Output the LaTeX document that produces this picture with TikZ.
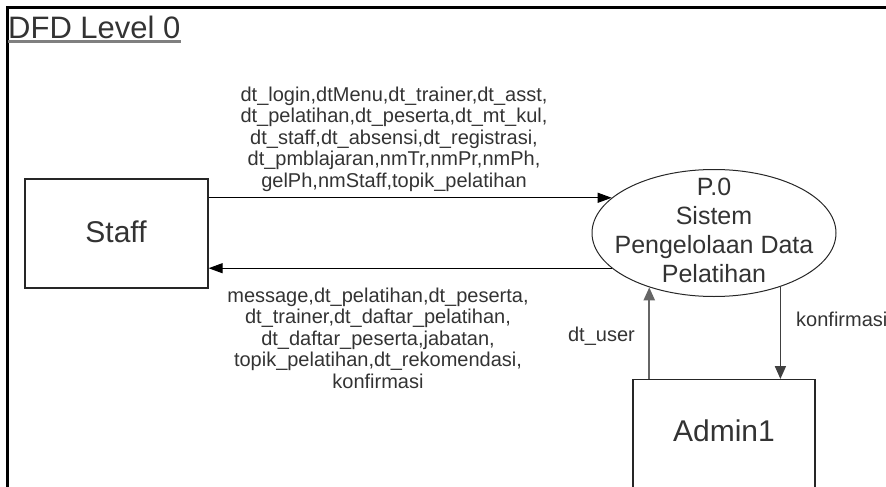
\documentclass[tikz,border=0pt]{standalone}
\usepackage{fontspec}
\setmainfont{Liberation Sans}
\usetikzlibrary{shapes.geometric,arrows.meta}
\definecolor{txt}{HTML}{333333}
\tikzset{
  entity/.style={draw=black!85, line width=1.2pt, inner sep=0pt},
  proc/.style={ellipse, draw=black!85, line width=1pt, inner sep=0pt},
  bigtext/.style={font=\fontsize{30}{34}\selectfont, text=txt, inner sep=0pt},
  proctxt/.style={font=\fontsize{25}{29}\selectfont, text=txt, inner sep=0pt, align=center},
  lbl/.style={font=\fontsize{20}{21.5}\selectfont, text=txt, inner sep=0pt, align=center},
  flow/.style={draw=black, line width=1pt, -{Triangle[length=14pt,width=10pt]}},
  flowgray/.style={draw=black!60, line width=2.2pt, -{Triangle[length=13pt,width=11pt]}},
  flowdark/.style={draw=black!75, line width=1.8pt, -{Triangle[length=13pt,width=11pt]}},
  frame/.style={draw=black, line width=2.8pt},
}
\begin{document}
\begin{tikzpicture}[x=1pt,y=-1pt]
\useasboundingbox (0,0) rectangle (886,487);
\clip (0,0) rectangle (886,487);
% frame
\draw[frame] (886,7.7) -- (7.8,7.7) -- (7.8,487);
% title
\node[font=\fontsize{31}{34}\selectfont, text=black!80, inner sep=0pt, anchor=base west] (title) at (8,39) {DFD Level 0};
\draw[draw=black!50, line width=2.5pt] ([yshift=-2.5pt]title.base west) -- ([yshift=-2.5pt]title.base east);
% entities and process
\node[entity, minimum width=183pt, minimum height=109pt] (staff) at (116.5,233.5) {};
\node[bigtext] (stafftxt) at (116,231.5) {Staff};
\node[entity, minimum width=182pt, minimum height=130pt, anchor=north] (admin) at (724,379) {};
\node[bigtext] (admintxt) at (724,431) {Admin1};
\node[proc, minimum width=244pt, minimum height=127pt] (p0) at (714,233) {};
\node[proctxt] (p0txt) at (714,230.5) {P.0\\Sistem\\Pengelolaan Data\\Pelatihan};
% flows
\draw[flow] (staff.east |- p0.161) -- (p0.161);
\draw[flow] (p0.199) -- (staff.east |- p0.199);
\draw[flowgray] (p0.220 |- admin.north) -- (p0.220);
\draw[flowdark] (p0.321) -- (p0.321 |- admin.north);
% labels
\node[lbl] (l1) at (394,139) {dt\_login,dtMenu,dt\_trainer,dt\_asst,\\dt\_pelatihan,dt\_peserta,dt\_mt\_kul,\\dt\_staff,dt\_absensi,dt\_registrasi,\\dt\_pmblajaran,nmTr,nmPr,nmPh,\\gelPh,nmStaff,topik\_pelatihan};
\node[lbl] (l2) at (378,338) {message,dt\_pelatihan,dt\_peserta,\\dt\_trainer,dt\_daftar\_pelatihan,\\dt\_daftar\_peserta,jabatan,\\topik\_pelatihan,dt\_rekomendasi,\\konfirmasi};
\node[lbl, anchor=base east] (l3) at (635,341) {dt\_user};
\node[lbl, anchor=base west] (l4) at (796,326) {konfirmasi};
\end{tikzpicture}
\end{document}
